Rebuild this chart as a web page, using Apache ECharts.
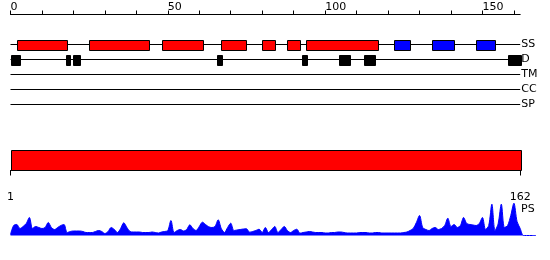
<!DOCTYPE html>
<html>
<head>
<meta charset="utf-8">
<script src="https://cdn.jsdelivr.net/npm/echarts@6/dist/echarts.min.js"></script>
<style>html,body{margin:0;padding:0;background:#fff}#c{width:550px;height:260px}</style>
</head>
<body>
<div id="c"></div>
<script>
// ---- data ----
const seqLength = 162;
const tracks = ['SS', 'D', 'TM', 'CC', 'SP'];
const topTickValues = [0, 10, 20, 30, 40, 50, 60, 70, 80, 90, 100, 110, 120, 130, 140, 150, 160];
const topLabelValues = [0, 50, 100, 150];
const bottomLabelValues = [1, 162];
// secondary structure: helices (red) and strands (blue), [start, end]
const ssHelix = [[2, 18], [25, 44], [48, 61], [67, 75], [80, 84], [88, 92], [94, 117]];
const ssStrand = [[122, 127], [134, 141], [148, 154]];
// disorder regions [start, end]
const disorder = [[0, 3], [17.5, 18.7], [19.9, 22], [65.5, 67], [92.5, 94], [104.5, 108], [112.5, 116], [158, 162]];
// full-length domain bar [start, end]
const domain = [[1, 162]];
// PS profile per residue position 0..162
const psValues = [
  1, 10, 11, 7, 9, 12, 18, 7, 9, 8,
  7, 8, 13, 8, 6, 8, 10, 11, 3, 4,
  4.5, 4.5, 4.5, 4, 3, 3, 3, 4, 5, 4,
  2, 4, 8, 6, 3, 7, 12.7, 8, 4, 3.5,
  3.5, 3.5, 3, 3, 3, 3.5, 3, 2.5, 3.5, 4,
  5, 15, 3, 5, 6, 4.5, 6, 10.7, 7, 5,
  9, 13.3, 11, 8.7, 8, 9, 15.7, 7, 3, 8,
  12.3, 5, 5.5, 6, 6.5, 6.7, 3.3, 4, 5, 6.3,
  3, 8, 3, 6, 9, 3, 6, 9, 5, 3,
  5, 6.3, 2.3, 3, 3.5, 4, 3.5, 3, 3, 3,
  2.5, 2.5, 3, 3, 3.5, 3.5, 3, 2.5, 2.5, 2.5,
  2.5, 3, 3, 3, 2.5, 2.5, 3, 3, 2.5, 2.5,
  2.5, 2.5, 2.5, 2.5, 2.5, 3, 3.5, 5, 7, 13,
  20, 8, 6, 5, 7, 8, 6, 7, 10, 17.3,
  9, 11, 8, 10, 18, 12, 11, 10.5, 10, 12,
  18, 6, 10, 31.3, 5, 12, 31.3, 8, 10, 20,
  32.3, 14, 7, 0, 0, 0, 0, 0
];

// ---- chart ----
const FONT = 'DejaVu Sans';
const chart = echarts.init(document.getElementById('c'), null, {renderer: 'canvas'});

function boxRenderer(fill, h) {
  return function (params, api) {
    const s = api.coord([api.value(0), api.value(2)]);
    const e = api.coord([api.value(1), api.value(2)]);
    return {
      type: 'rect',
      shape: {x: Math.round(s[0]) + 0.5, y: Math.round(s[1] - h / 2) + 0.5, width: Math.round(e[0] - s[0]), height: h},
      style: {fill: fill, stroke: '#000', lineWidth: 1}
    };
  };
}

const trackLineSeries = tracks.map(t => ({
  type: 'line', xAxisIndex: 0, yAxisIndex: 0,
  data: [[0, t], [seqLength, t]],
  symbol: 'none', silent: true, z: 1,
  lineStyle: {color: '#000', width: 1}
}));

const option = {
  animation: false,
  backgroundColor: '#fff',
  grid: [
    {left: 10.5, width: 509.7, top: 37, height: 75},
    {left: 10.5, width: 509.7, top: 150.5, height: 20},
    {left: 10.5, width: 509.7 * 167 / 162, top: 200.5, height: 35}
  ],
  xAxis: [
    {
      gridIndex: 0, type: 'value', position: 'top', offset: 22.5,
      min: 0, max: seqLength,
      axisLine: {show: true, lineStyle: {color: '#000', width: 1}},
      axisTick: {show: true, length: 4, customValues: topTickValues, lineStyle: {color: '#000'}},
      axisLabel: {show: true, customValues: topLabelValues, align: 'left', margin: 2,
        color: '#000', fontFamily: FONT, fontSize: 11},
      splitLine: {show: false}
    },
    {
      gridIndex: 1, type: 'value', position: 'bottom', offset: 10,
      min: 1, max: seqLength,
      axisLine: {show: true, lineStyle: {color: '#000', width: 1}},
      axisTick: {show: true, length: 5, customValues: bottomLabelValues, lineStyle: {color: '#000'}},
      axisLabel: {show: true, customValues: bottomLabelValues, margin: 11,
        color: '#000', fontFamily: FONT, fontSize: 11},
      splitLine: {show: false}
    },
    {
      gridIndex: 2, type: 'value', min: 0, max: 167, show: false
    }
  ],
  yAxis: [
    {
      gridIndex: 0, type: 'category', data: tracks, inverse: true, position: 'right',
      axisLine: {show: false}, axisTick: {show: false},
      axisLabel: {show: true, margin: 1, color: '#000', fontFamily: FONT, fontSize: 11}
    },
    {gridIndex: 1, type: 'value', min: 0, max: 1, show: false},
    {gridIndex: 2, type: 'value', min: 0, max: 35, show: false}
  ],
  graphic: [
    {type: 'text', left: 521, top: 204,
      style: {text: 'PS', fill: '#000', font: '11px "DejaVu Sans"'}}
  ],
  series: [
    ...trackLineSeries,
    {
      type: 'custom', xAxisIndex: 0, yAxisIndex: 0, z: 3,
      renderItem: boxRenderer('#ff0000', 10),
      encode: {x: [0, 1], y: 2},
      data: ssHelix.map(d => [d[0], d[1], 0])
    },
    {
      type: 'custom', xAxisIndex: 0, yAxisIndex: 0, z: 3,
      renderItem: boxRenderer('#0000ff', 10),
      encode: {x: [0, 1], y: 2},
      data: ssStrand.map(d => [d[0], d[1], 0])
    },
    {
      type: 'custom', xAxisIndex: 0, yAxisIndex: 0, z: 3,
      renderItem: boxRenderer('#000000', 10),
      encode: {x: [0, 1], y: 2},
      data: disorder.map(d => [d[0], d[1], 1])
    },
    {
      type: 'custom', xAxisIndex: 1, yAxisIndex: 1, z: 3,
      renderItem: function (params, api) {
        const s = api.coord([api.value(0), 1]);
        const e = api.coord([api.value(1), 0]);
        return {
          type: 'rect',
          shape: {x: Math.round(s[0]) + 0.5, y: Math.round(s[1]) - 0.5, width: Math.round(e[0] - s[0]), height: Math.round(e[1] - s[1])},
          style: {fill: '#ff0000', stroke: '#000', lineWidth: 1}
        };
      },
      encode: {x: [0, 1]},
      data: domain
    },
    {
      type: 'line', xAxisIndex: 2, yAxisIndex: 2,
      data: psValues.map((v, i) => [i, v]),
      symbol: 'none', smooth: 0.3, silent: true,
      lineStyle: {color: '#0000ff', width: 1},
      areaStyle: {color: '#0000ff', opacity: 1}
    }
  ]
};
chart.setOption(option);
</script>
</body>
</html>
